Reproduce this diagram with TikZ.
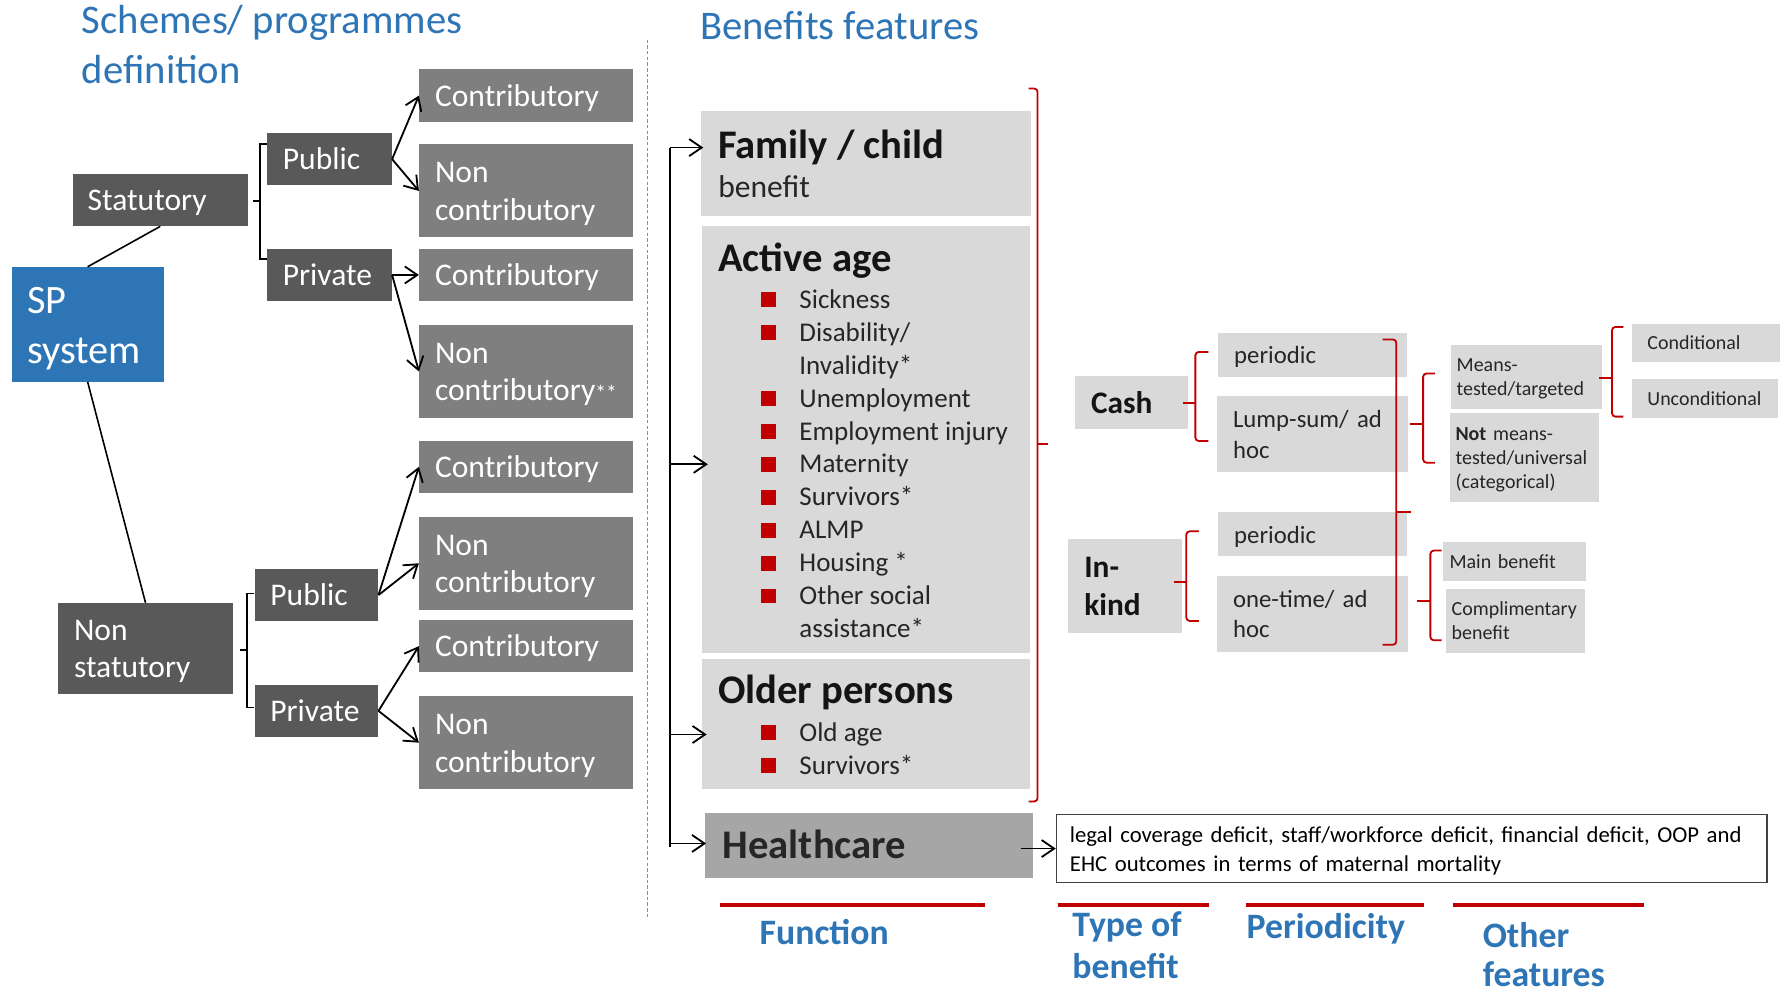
\documentclass[tikz,border=0pt]{standalone}
\usepackage{fontspec}
\setmainfont{Carlito}
\usetikzlibrary{arrows.meta}
\definecolor{dkgray}{HTML}{595959}
\definecolor{mdgray}{HTML}{7F7F7F}
\definecolor{ltgray}{HTML}{D9D9D9}
\definecolor{hcgray}{HTML}{A6A6A6}
\definecolor{spblue}{HTML}{2E75B6}
\definecolor{ttlblue}{HTML}{2E75B6}
\definecolor{brred}{HTML}{C00000}
\definecolor{txtdark}{HTML}{262626}
\definecolor{headdark}{HTML}{141414}
\definecolor{dashgray}{HTML}{8C8C8C}
\definecolor{notegray}{HTML}{404040}
\newcommand\fs[2]{\fontsize{#1}{#2}\selectfont}
\newcommand\mystrut{\rule[-0.215\baselineskip]{0pt}{\baselineskip}}
% #1 style, #2 name, #3 x1, #4 y1, #5 x2, #6 y2, #7 left pad, #8 text
\newcommand\rbox[8]{%
  \pgfmathsetmacro\bw{#5-#3}%
  \pgfmathsetmacro\bh{#6-#4}%
  \pgfmathsetmacro\tw{#5-#3-2*#7}%
  \node[#1, anchor=north west, inner xsep=#7pt, inner ysep=0pt,
        minimum width=\bw pt, minimum height=\bh pt, text width=\tw pt, align=left]
        (#2) at (#3,#4) {\hyphenpenalty=10000 \exhyphenpenalty=10000 \mystrut#8\mystrut};}
% bracket: #1 style, #2 x, #3 ytop, #4 ybot, #5 ymid, #6 mid tip x, #7 hook x
\newcommand\brk[7]{%
  \draw[#1] (#7,#3) -- (#2,#3) -- (#2,#4) -- (#7,#4);
  \draw[#1] (#2,#5) -- (#6,#5);}
\newcommand\itm[3]{\node[itemtxt] (#1) at (704,#2) {#3};
  \fill[brred] (670,#2-14) rectangle (684,#2-1);}
\newcommand\itc[3]{\node[itemtxt] (#1) at (704,#2) {#3};}
\begin{document}
\begin{tikzpicture}[x=1pt,y=-1pt,
 ln/.style={draw=black,line width=1.4pt},
 arr/.style={draw=black,line width=1.6pt,-{Straight Barb[length=11pt,width=15pt]}},
 blk/.style={draw=black,line width=1.3pt},
 redbr/.style={draw=brred,line width=1.6pt,rounded corners=3pt},
 dkbox/.style={fill=dkgray,text=white,font=\fs{27.8}{33}},
 mdbox/.style={fill=mdgray,text=white,font=\fs{27.8}{33}},
 spbox/.style={fill=spblue,text=white,font=\fs{35.5}{43.5}},
 ltbox/.style={fill=ltgray,text=txtdark},
 hcbox/.style={fill=hcgray},
 cashfont/.style={font=\bfseries\fs{27.6}{33},text=headdark},
 perfont/.style={font=\fs{21.8}{27}},
 smfont/.style={font=\fs{17.6}{21.2}},
 txt/.style={anchor=base west,inner sep=0pt},
 ttl/.style={txt,text=ttlblue,font=\fs{35.8}{43}},
 lbl/.style={txt,text=ttlblue,font=\bfseries\fs{31.5}{38}},
 head/.style={txt,text=headdark,font=\bfseries\fs{35.8}{43}},
 itemtxt/.style={txt,text=txtdark,font=\fs{23.8}{29}},
 redline/.style={draw=brred,line width=3.5pt},
 note/.style={draw=notegray,fill=white,line width=1pt,text=black,font=\fs{20}{26}}
]
\fill[white] (0,0) rectangle (1568,875);
\useasboundingbox (0,0) rectangle (1568,875);

% titles
\node[ttl] (ttlA) at (72,29.4) {Schemes/ programmes};
\node[ttl] (ttlB) at (72,73.4) {definition};
\node[ttl] (ttlC) at (616.5,34.6) {Benefits features};

% divider
\draw[draw=dashgray,line width=1pt,dash pattern=on 3pt off 2pt] (570.5,35) -- (570.5,810);

% left tree
\rbox{spbox}{sp}{10}{235}{144}{336}{14}{SP\\system}
\rbox{dkbox}{stat}{64}{153}{218}{199}{13}{Statutory}
\rbox{dkbox}{pubU}{235}{117}{345}{163}{14}{Public}
\rbox{dkbox}{pvtU}{235}{219}{345}{265}{14}{Private}
\rbox{mdbox}{c1}{369}{61}{557}{107}{14}{Contributory}
\rbox{mdbox}{n1}{369}{127}{557}{209}{14}{Non\\contributory}
\rbox{mdbox}{c2}{369}{219}{557}{265}{14}{Contributory}
\rbox{mdbox}{n2}{369}{286}{557}{368}{14}{Non\\contributory{\fs{19}{19}**}}
\rbox{dkbox}{nonstat}{51}{531}{205}{611}{14}{Non\\statutory}
\rbox{dkbox}{pubL}{224}{501}{333}{547}{14}{Public}
\rbox{dkbox}{pvtL}{224}{603}{333}{649}{14}{Private}
\rbox{mdbox}{c3}{369}{388}{557}{434}{14}{Contributory}
\rbox{mdbox}{n3}{369}{455}{557}{537}{14}{Non\\contributory}
\rbox{mdbox}{c4}{369}{546}{557}{592}{14}{Contributory}
\rbox{mdbox}{n4}{369}{613}{557}{695}{14}{Non\\contributory}

\draw[ln] (stat.south) -- (sp.north);
\draw[ln] (sp.south) -- (nonstat.north);
\brk{blk}{229}{127}{228}{177}{223}{235}
\brk{blk}{217.4}{523}{623}{572.6}{211.5}{224}
\draw[arr] (pubU.east) -- (c1.west);
\draw[arr] (pubU.east) -- (n1.west);
\draw[arr] (pvtU.east) -- (c2.west);
\draw[arr] (pvtU.east) -- (n2.west);
\draw[arr] (pubL.east) -- (c3.west);
\draw[arr] (pubL.east) -- (n3.west);
\draw[arr] (pvtL.east) -- (c4.west);
\draw[arr] (pvtL.east) -- (n4.west);

% function boxes
\rbox{ltbox}{fam}{617.5}{98}{908}{190}{14}{}
\rbox{ltbox}{act}{618.5}{199}{907}{575}{14}{}
\rbox{ltbox}{old}{618.5}{580}{907}{694.5}{14}{}
\rbox{hcbox}{hc}{621}{715.6}{910}{773}{14}{}

\node[head] (famh) at (632.5,139.5) {Family / child};
\node[txt,text=txtdark,font=\fs{27.8}{33}] (famb) at (632.5,173.8) {benefit};
\node[head] (acth) at (632.5,239.3) {Active age};
\itm{a1}{271.6}{Sickness}
\itm{a2}{300.6}{Disability/}
\itc{a3}{329.6}{Invalidity*}
\itm{a4}{358.6}{Unemployment}
\itm{a5}{387.6}{Employment injury}
\itm{a6}{416.6}{Maternity}
\itm{a7}{445.6}{Survivors*}
\itm{a8}{474.6}{ALMP}
\itm{a9}{503.6}{Housing *}
\itm{a10}{532.6}{Other social}
\itc{a11}{561.6}{assistance*}
\node[head] (oldh) at (632.5,620) {Older persons};
\itm{o1}{653}{Old age}
\itm{o2}{682}{Survivors*}
\node[head,text=txtdark] (hch) at (636.5,756) {Healthcare};

% trunk arrows
\coordinate (tA) at (590,130);
\coordinate (tB) at (590,409);
\coordinate (tC) at (590,647);
\coordinate (tD) at (590,743);
\coordinate (tE) at (590,746);
\draw[ln] (tA) -- (tE);
\draw[arr,shorten >=-2pt] (tA) -- (fam.west |- tA);
\draw[arr,shorten >=-5pt] (tB) -- (act.west |- tB);
\draw[arr,shorten >=-4pt] (tC) -- (old.west |- tC);
\draw[arr,shorten >=-1pt] (tD) -- (hc.west |- tD);

% red bracket of functions
\brk{redbr}{914}{78}{706}{391}{923.5}{906}

% note
\rbox{note}{nt}{930}{717}{1556}{777}{12}{legal coverage deficit, staff/workforce deficit, financial deficit, OOP and\\EHC outcomes in terms of maternal mortality}
\draw[arr,shorten <=-11pt] (hc.east |- nt.west) -- (nt.west);

% type of benefit
\rbox{ltbox,cashfont}{cash}{947}{331}{1046}{378}{14}{Cash}
\rbox{ltbox,cashfont}{inkind}{941}{475}{1041}{557}{14}{In-\\kind}
\rbox{ltbox,perfont}{per1}{1073}{293}{1239}{332}{14}{periodic}
\rbox{ltbox,perfont}{lump}{1072}{349}{1240}{416}{14}{Lump-sum/ ad\\hoc}
\rbox{ltbox,perfont}{per2}{1073}{451}{1239}{490}{14}{periodic}
\rbox{ltbox,perfont}{onet}{1072}{507}{1240}{574}{14}{one-time/ ad\\hoc}
\rbox{ltbox,smfont}{means}{1278}{303.6}{1410.6}{359.7}{5}{Means-\\tested/targeted}
\rbox{ltbox,smfont}{notm}{1277}{364}{1408}{441.6}{5}{\textbf{Not} means-\\tested/universal\\(categorical)}
\rbox{ltbox,smfont}{cond}{1437}{284.8}{1568}{318.6}{14}{Conditional}
\rbox{ltbox,smfont}{uncond}{1437}{333.9}{1566}{368}{14}{Unconditional}
\rbox{ltbox,smfont}{mainb}{1270.7}{477}{1397}{511.6}{6}{Main benefit}
\rbox{ltbox,smfont}{compb}{1273.6}{519}{1396}{574.6}{5}{Complimentary\\benefit}

\brk{redbr}{1053}{310}{388.5}{354.7}{1042}{1064.5}
\brk{redbr}{1045}{468}{547}{512.4}{1034}{1056}
\brk{redbr}{1230}{299}{568}{451}{1243}{1218}
\brk{redbr}{1253.6}{329}{407.6}{373.5}{1242}{1264}
\brk{redbr}{1420}{288}{367}{333}{1408.6}{1430}
\brk{redbr}{1260}{485}{564}{529.5}{1248.6}{1270}

% bottom labels
\draw[redline] (634,797) -- (868,797);
\draw[redline] (932,797) -- (1065,797);
\draw[redline] (1098,797) -- (1254,797);
\draw[redline] (1280,797) -- (1448,797);
\node[lbl] (lf) at (669,832) {Function};
\node[lbl] (lt1) at (944.5,825) {Type of};
\node[lbl] (lt2) at (944.5,862) {benefit};
\node[lbl] (lp) at (1098,826.6) {Periodicity};
\node[lbl] (lo1) at (1306,835) {Other};
\node[lbl] (lo2) at (1306,869) {features};
\end{tikzpicture}
\end{document}
